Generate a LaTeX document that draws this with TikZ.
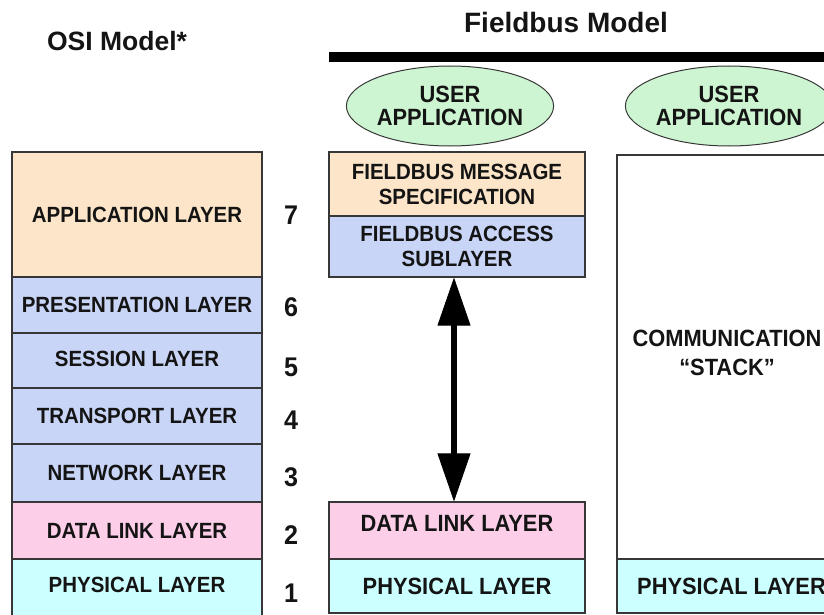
\documentclass[tikz,border=0pt]{standalone}
\usepackage{fontspec}
\setmainfont{Liberation Sans}
\newfontfamily\condfont[FakeStretch=0.93,Ligatures=TeX]{Liberation Sans}
\usetikzlibrary{arrows.meta,shapes.geometric}
\definecolor{peach}{RGB}{252,229,200}
\definecolor{lblue}{RGB}{201,213,247}
\definecolor{lpink}{RGB}{252,206,232}
\definecolor{lcyan}{RGB}{204,255,255}
\definecolor{lgreen}{RGB}{206,245,210}
\definecolor{edgegray}{RGB}{55,55,55}
\definecolor{txt}{RGB}{20,20,20}
\begin{document}
\begin{tikzpicture}[x=1pt,y=-1pt,
  layerbox/.style={draw=edgegray, line width=1.2pt, inner sep=0pt, align=center,
    text=txt, font=\condfont\fontsize{22}{25}\selectfont\bfseries},
  bigtext/.style={font=\condfont\fontsize{23.5}{27}\selectfont\bfseries},
  leftcol/.style={layerbox, minimum width=250pt},
  midcol/.style={layerbox, minimum width=256pt},
  rightcol/.style={layerbox, minimum width=229pt},
  userapp/.style={ellipse, draw=edgegray, line width=1pt, fill=lgreen, inner sep=0pt,
    minimum width=206pt, minimum height=80pt, align=center, text=txt,
    font=\condfont\fontsize{23.5}{23.5}\selectfont\bfseries},
  numlabel/.style={font=\condfont\fontsize{27}{27}\selectfont\bfseries, text=txt, inner sep=0pt},
  title/.style={font=\bfseries, text=txt, inner sep=0pt},
  bothways/.style={line width=6.5pt,
    {Triangle[length=48pt,width=33pt,line width=0.8pt]}-{Triangle[length=48pt,width=33pt,line width=0.8pt]}}
]
\useasboundingbox (0,0) rectangle (824,615);
\clip (0,0) rectangle (824,615);

% titles
\node[title, font=\fontsize{26.5}{27}\selectfont\bfseries] (osititle) at (117,41) {OSI Model*};
\node[title, font=\fontsize{28}{28}\selectfont\bfseries] (fbtitle) at (566,22.5) {Fieldbus Model};

% bar
\fill[black] (329,52) rectangle (830,62);

% OSI column
\node[leftcol, fill=peach, minimum height=125pt] (app) at (137,214.5) {APPLICATION LAYER};
\node[leftcol, fill=lblue, minimum height=56pt] (pres) at (137,305) {PRESENTATION LAYER};
\node[leftcol, fill=lblue, minimum height=55pt, text depth=4pt] (sess) at (137,360.5) {SESSION LAYER};
\node[leftcol, fill=lblue, minimum height=56pt] (trans) at (137,416) {TRANSPORT LAYER};
\node[leftcol, fill=lblue, minimum height=58pt] (net) at (137,473) {NETWORK LAYER};
\node[leftcol, fill=lpink, minimum height=57pt] (ldll) at (137,530.5) {DATA LINK LAYER};
\node[leftcol, fill=lcyan, minimum height=71pt, text depth=19pt] (lphys) at (137,594.5) {PHYSICAL LAYER};

% layer numbers
\node[numlabel] (n7) at (291,215) {7};
\node[numlabel] (n6) at (291,307) {6};
\node[numlabel] (n5) at (291,367) {5};
\node[numlabel] (n4) at (291,420) {4};
\node[numlabel] (n3) at (291,477) {3};
\node[numlabel] (n2) at (291,535) {2};
\node[numlabel] (n1) at (291,593) {1};

% Fieldbus middle column
\node[userapp] (ua1) at (450,106) {USER\\APPLICATION};
\node[midcol, fill=peach, minimum height=64pt] (fms) at (457,184) {FIELDBUS MESSAGE\\SPECIFICATION};
\node[midcol, fill=lblue, minimum height=61pt] (fas) at (457,246.5) {FIELDBUS ACCESS\\SUBLAYER};
\node[midcol, bigtext, fill=lpink, minimum height=57pt, text depth=14pt] (mdll) at (457,530.5) {DATA LINK LAYER};
\node[midcol, bigtext, fill=lcyan, minimum height=54pt] (mphys) at (457,586) {PHYSICAL LAYER};

% arrow
\draw[bothways] ([xshift=-3pt]fas.south) -- ([xshift=-3pt]mdll.north);

% Fieldbus right column
\node[userapp] (ua2) at (729,106) {USER\\APPLICATION};
\node[rightcol, fill=white, minimum height=404pt] (stack) at (731.5,357) {};
\node[bigtext, align=center, text=txt, inner sep=0pt] (stacktext) at (727,352.5) {COMMUNICATION\\[2pt]“STACK”};
\node[rightcol, bigtext, fill=lcyan, minimum height=54pt] (rphys) at (731.5,586) {PHYSICAL LAYER};
\end{tikzpicture}
\end{document}
